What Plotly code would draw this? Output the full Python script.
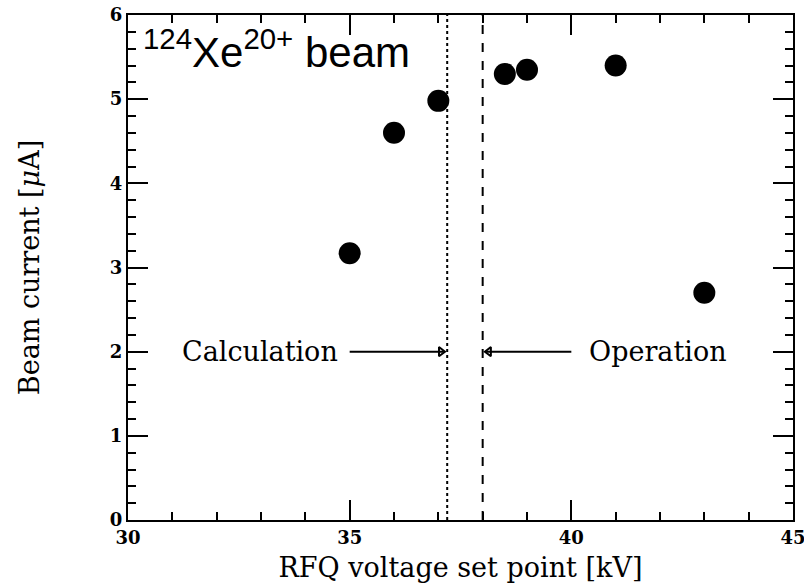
import plotly.graph_objects as go

# Measured beam current versus RFQ voltage set point
voltage_kv = [35.0, 36.0, 37.0, 38.5, 39.0, 41.0, 43.0]
current_ua = [3.17, 4.60, 4.98, 5.30, 5.35, 5.40, 2.70]

# Reference set points
calc_setpoint = 37.2
oper_setpoint = 38.0
arrow_level = 2.0
calc_arrow_start = 35.0
oper_arrow_start = 40.0

x_range = [30, 45]
y_range = [0, 6]

serif = "DejaVu Serif"

fig = go.Figure()

fig.add_trace(go.Scatter(
    x=voltage_kv, y=current_ua, mode="markers",
    marker=dict(color="black", size=22, line=dict(width=0)),
    showlegend=False, cliponaxis=False,
))

# Arrows pointing at the calculated and operational set points
fig.add_trace(go.Scatter(
    x=[calc_arrow_start, calc_setpoint - 0.08], y=[arrow_level, arrow_level],
    mode="lines", line=dict(color="black", width=2), showlegend=False,
))
fig.add_trace(go.Scatter(
    x=[oper_arrow_start, oper_setpoint + 0.08], y=[arrow_level, arrow_level],
    mode="lines", line=dict(color="black", width=2), showlegend=False,
))
fig.add_trace(go.Scatter(
    x=[calc_setpoint - 0.14], y=[arrow_level], mode="markers",
    marker=dict(symbol="triangle-right-open", size=8, color="black",
                line=dict(width=2, color="black")),
    showlegend=False,
))
fig.add_trace(go.Scatter(
    x=[oper_setpoint + 0.14], y=[arrow_level], mode="markers",
    marker=dict(symbol="triangle-left-open", size=8, color="black",
                line=dict(width=2, color="black")),
    showlegend=False,
))

fig.add_shape(type="line", xref="x", yref="paper", x0=calc_setpoint, x1=calc_setpoint,
              y0=0, y1=1, line=dict(color="black", width=2, dash="dot"))
fig.add_shape(type="line", xref="x", yref="paper", x0=oper_setpoint, x1=oper_setpoint,
              y0=0, y1=1, line=dict(color="black", width=2, dash="dash"))

fig.add_annotation(x=calc_arrow_start - 0.22, y=arrow_level, text="Calculation",
                   showarrow=False, xanchor="right", yanchor="middle",
                   font=dict(family=serif, size=27, color="black"))
fig.add_annotation(x=oper_arrow_start + 0.35, y=arrow_level, text="Operation",
                   showarrow=False, xanchor="left", yanchor="middle",
                   font=dict(family=serif, size=27, color="black"))

fig.add_annotation(x=30.3, y=5.94, text="<sup>124</sup>Xe<sup>20+</sup> beam",
                   showarrow=False, xanchor="left", yanchor="top",
                   font=dict(family="Liberation Sans", size=42, color="black"))

axis_common = dict(
    showline=True, linecolor="black", linewidth=2, mirror="allticks",
    ticks="inside", tickcolor="black", tickwidth=2, ticklen=20,
    showgrid=False, zeroline=False, automargin=False,
    ticklabeloverflow="allow",
    tickfont=dict(family=serif, size=18, color="black", weight="bold"),
)

fig.update_xaxes(
    range=x_range, dtick=5, tick0=30,
    minor=dict(ticks="inside", dtick=1, ticklen=8, tickwidth=2, tickcolor="black"),
    title=dict(text="RFQ voltage set point [kV]", standoff=12,
               font=dict(family=serif, size=27, color="black")),
    **axis_common,
)
fig.update_yaxes(
    range=y_range, dtick=1, tick0=0,
    minor=dict(ticks="inside", dtick=0.2, ticklen=8, tickwidth=2, tickcolor="black"),
    title=dict(text="Beam current [<i>μ</i>A]", standoff=62,
               font=dict(family=serif, size=27, color="black")),
    **axis_common,
)

fig.update_layout(
    width=804, height=584, autosize=False,
    margin=dict(l=128, r=11, t=15, b=64),
    paper_bgcolor="white", plot_bgcolor="white",
    showlegend=False,
)

fig.write_html("out.html", config={"responsive": False})
